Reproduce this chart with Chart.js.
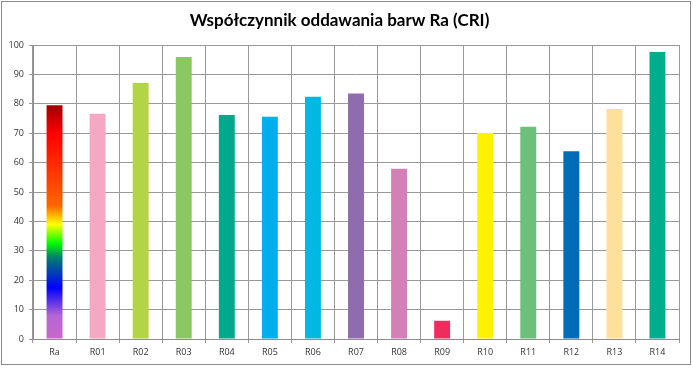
<!DOCTYPE html>
<html>
<head>
<meta charset="utf-8">
<script src="https://cdn.jsdelivr.net/npm/chart.js@4"></script>
<style>
  html, body { margin: 0; padding: 0; background: #fff; }
  #wrap { width: 693px; height: 368px; position: relative; }
</style>
</head>
<body>
<div id="wrap"><canvas id="criChart"></canvas></div>
<script>
// dane z wykresu
const labels = ["Ra", "R01", "R02", "R03", "R04", "R05", "R06", "R07", "R08", "R09", "R10", "R11", "R12", "R13", "R14"];
const values = [79.5, 76.6, 87.1, 95.9, 76.2, 75.6, 82.4, 83.5, 57.9, 6.2, 70.1, 72.2, 63.9, 78.2, 97.6];
const barColors = [null, "#F5A7C3", "#B3D444", "#8AC962", "#00A98B", "#00AEEB", "#00B9E2", "#8E6CAD", "#D280B6", "#EE2D5F", "#FFF200", "#6CC07A", "#006CB7", "#FDE09B", "#00AE8D"];
// gradient słupka Ra (od dołu do góry)
const raStops = [
  [0.0, "#CC66CC"],
  [0.10, "#B466D4"],
  [0.22, "#0000FF"],
  [0.35, "#00806A"],
  [0.41, "#00FF00"],
  [0.49, "#FFFF00"],
  [0.57, "#FF6600"],
  [0.88, "#FF0000"],
  [1.0, "#A00000"],
];
const yTicks = [0, 10, 20, 30, 40, 50, 60, 70, 80, 90, 100];

function barColor(context) {
  const chart = context.chart;
  if (context.dataIndex !== 0) return barColors[context.dataIndex];
  const y = chart.scales.y;
  if (!chart.chartArea || !y) return "#FF0000";
  const bottom = y.getPixelForValue(0);
  const top = y.getPixelForValue(values[0]);
  const g = chart.ctx.createLinearGradient(0, bottom, 0, top);
  raStops.forEach(s => g.addColorStop(s[0], s[1]));
  return g;
}

// ramka dookoła wykresu
const frame = {
  id: "frame",
  beforeDraw(chart) {
    const c = chart.ctx;
    c.save();
    c.fillStyle = "#fff";
    c.fillRect(0, 0, chart.width, chart.height);
    c.strokeStyle = "#8C8C8C";
    c.lineWidth = 1;
    c.strokeRect(1.5, 1.5, 689, 363);
    c.restore();
  }
};

const ctx = document.getElementById("criChart").getContext("2d");
new Chart(ctx, {
  type: "bar",
  data: {
    labels: labels,
    datasets: [{
      data: values,
      backgroundColor: barColor,
      borderWidth: 0,
      categoryPercentage: 1,
      barPercentage: 0.37,
    }],
  },
  options: {
    responsive: true,
    maintainAspectRatio: false,
    animation: false,
    layout: { padding: { left: 0, right: 14, top: 0, bottom: 0 } },
    plugins: {
      legend: { display: false },
      tooltip: { enabled: false },
      title: {
        display: true,
        text: "Współczynnik oddawania barw Ra (CRI)",
        color: "#000",
        font: { family: "Lato", size: 17, weight: "bold" },
        padding: { top: 10, bottom: 14.6 },
      },
    },
    scales: {
      y: {
        min: 0,
        max: 100,
        afterFit: (s) => { s.width = 33; },
        afterBuildTicks: (s) => { s.ticks = yTicks.map(v => ({ value: v })); },
        ticks: {
          color: "#333",
          font: { family: "Open Sans", size: 9 },
          padding: 5,
        },
        grid: { color: "#999999", tickLength: 4 },
        border: { color: "#8C8C8C" },
      },
      x: {
        afterFit: (s) => { s.height = 29; },
        ticks: {
          color: "#333",
          font: { family: "Open Sans", size: 9 },
          padding: 4,
        },
        grid: { color: "#999999", tickLength: 4, offset: true },
        border: { color: "#8C8C8C" },
      },
    },
  },
  plugins: [frame],
});
</script>
</body>
</html>
